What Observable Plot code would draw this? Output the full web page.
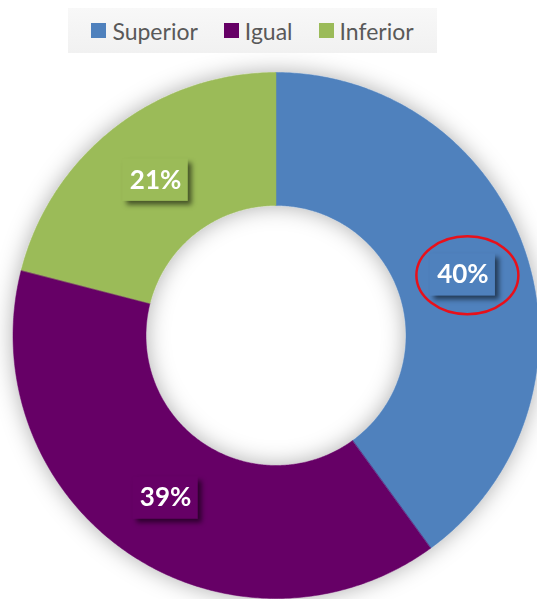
<!DOCTYPE html>
<html><head><meta charset="utf-8">
<script src="https://cdn.jsdelivr.net/npm/d3@7"></script>
<script src="https://cdn.jsdelivr.net/npm/@observablehq/plot@0.6"></script>
<style>
body{margin:0;background:#fff;}
#wrap{position:relative;width:537px;height:599px;overflow:hidden;}
#legend{position:absolute;left:68px;top:8px;width:369px;height:45px;background:linear-gradient(#f8f8f8,#f1f1f1);display:flex;align-items:center;justify-content:center;font-family:Lato,"Open Sans",sans-serif;font-size:23px;color:#595959;z-index:2;}
.item{display:flex;align-items:center;margin:0 13px;}
.sw{width:15px;height:15px;margin-right:6px;}
#chart{position:absolute;left:0;top:0;}
</style></head>
<body>
<div id="wrap"><div id="legend"></div><div id="chart"></div></div>
<script>
const categories = ["Superior", "Igual", "Inferior"];
const values = [40, 39, 21];
const labels = ["40%", "39%", "21%"];
const colors = ["#4f81bd", "#660066", "#9bbb59"];

const W = 537, H = 599, cx = 275.5, cy = 335, R = 263, innerFrac = 130 / 263;

// legend
const leg = d3.select("#legend");
categories.forEach((c, i) => {
  const it = leg.append("div").attr("class", "item");
  it.append("div").attr("class", "sw").style("background", colors[i]);
  it.append("span").text(c);
});

const pie = d3.pie().sort(null).value(d => d)(values);
const slices = pie.map((p, i) => {
  const pts = [];
  const n = Math.max(8, Math.ceil((p.endAngle - p.startAngle) / (Math.PI / 360)));
  for (let k = 0; k <= n; k++) {
    const a = p.startAngle + (p.endAngle - p.startAngle) * k / n;
    pts.push({x: Math.sin(a), y: Math.cos(a)});
  }
  for (let k = n; k >= 0; k--) {
    const a = p.startAngle + (p.endAngle - p.startAngle) * k / n;
    pts.push({x: innerFrac * Math.sin(a), y: innerFrac * Math.cos(a)});
  }
  return {cat: categories[i], color: colors[i], pts};
});
const mid = (1 + innerFrac) / 2;
const labelData = pie.map((p, i) => {
  const a = (p.startAngle + p.endAngle) / 2;
  return {x: mid * Math.sin(a), y: mid * Math.cos(a), text: labels[i], color: colors[i], cat: categories[i]};
});

const plot = Plot.plot({
  width: W, height: H, margin: 0,
  x: {domain: [-cx / R, (W - cx) / R], axis: null},
  y: {domain: [-(H - cy) / R, cy / R], axis: null},
  style: {background: "transparent", overflow: "visible"},
  marks: [
    ...slices.map(s => Plot.line(s.pts, {x: "x", y: "y", fill: s.color, stroke: s.color, strokeWidth: 0.5, curve: "linear-closed"})),
    Plot.text(labelData, {x: "x", y: "y", text: "text", fill: "white", fontSize: 26, fontWeight: "bold", fontFamily: "Lato, 'Open Sans', sans-serif"})
  ]
});
document.getElementById("chart").appendChild(plot);

const svg = d3.select(plot);
const defs = svg.insert("defs", ":first-child");
defs.append("filter").attr("id", "glow").attr("x", "-20%").attr("y", "-20%").attr("width", "140%").attr("height", "140%")
  .append("feDropShadow").attr("dx", 0).attr("dy", 0).attr("stdDeviation", 11).attr("flood-color", "#000").attr("flood-opacity", 0.32);
defs.append("filter").attr("id", "boxsh").attr("x", "-30%").attr("y", "-30%").attr("width", "160%").attr("height", "160%")
  .append("feDropShadow").attr("dx", 4).attr("dy", 4).attr("stdDeviation", 2.5).attr("flood-color", "#000").attr("flood-opacity", 0.55);

// group the ring slices under one shadow
const ring = svg.insert("g", "g[aria-label=text]").attr("filter", "url(#glow)");
svg.selectAll("g[aria-label=line]").each(function() { ring.node().appendChild(this); });

const sx = plot.scale("x"), sy = plot.scale("y");
const boxes = svg.insert("g", "g[aria-label=text]");
labelData.forEach(d => {
  const px = sx.apply(d.x), py = sy.apply(d.y);
  boxes.append("rect").attr("x", px - 32.5).attr("y", py - 21).attr("width", 65).attr("height", 42)
    .attr("fill", d.color).attr("filter", "url(#boxsh)");
});
// highlight ellipse around the Superior label
const sup = labelData[0];
svg.append("ellipse").attr("cx", sx.apply(sup.x) + 5).attr("cy", sy.apply(sup.y) + 1)
  .attr("rx", 51).attr("ry", 39).attr("fill", "none").attr("stroke", "#e8101a").attr("stroke-width", 2.5);
</script>
</body></html>
